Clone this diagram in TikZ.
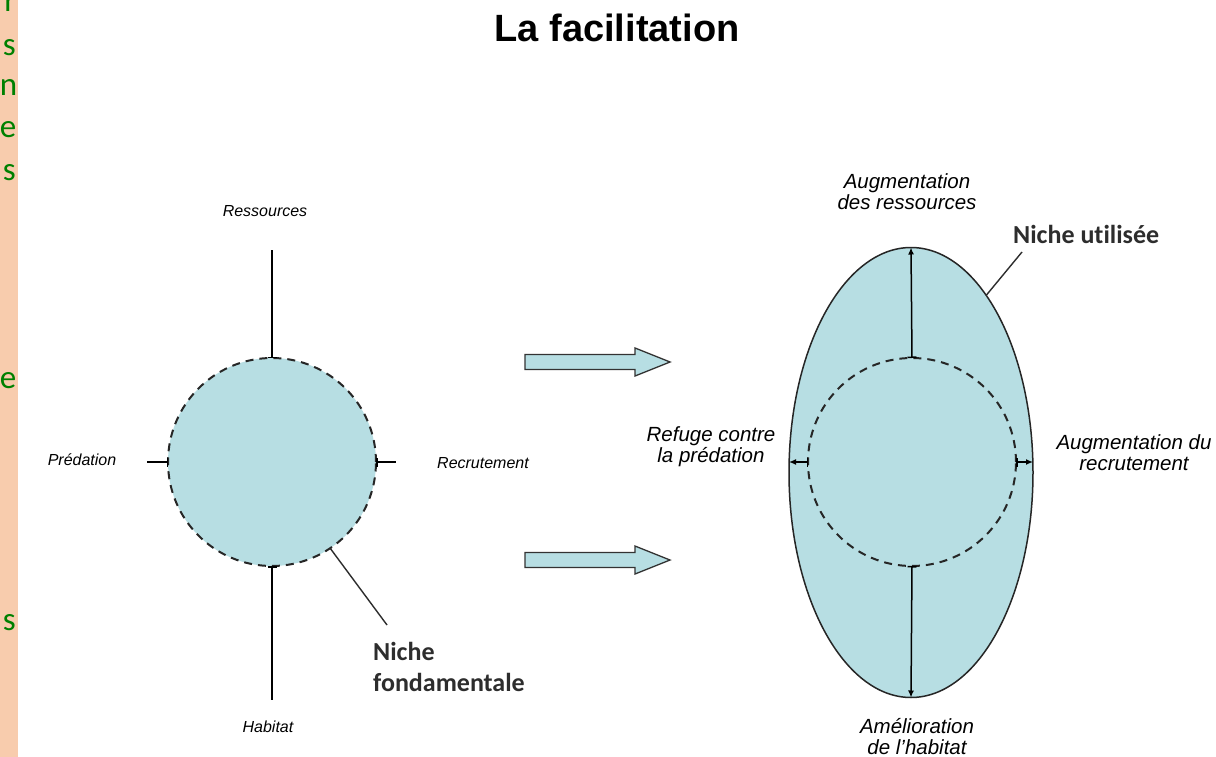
\documentclass[tikz,border=0pt]{standalone}
\usepackage{fontspec}
\setmainfont{Liberation Sans}
\newfontfamily\calib[Ligatures=NoCommon]{Carlito}
\usetikzlibrary{arrows.meta,shapes.geometric}
\definecolor{nichefill}{RGB}{183,222,227}
\definecolor{peach}{RGB}{248,204,173}
\definecolor{leafgreen}{RGB}{0,128,0}
\definecolor{labelgray}{RGB}{45,45,45}
\begin{document}
\begin{tikzpicture}[x=1pt,y=-1pt,
  lab/.style={font=\fontsize{16}{19}\selectfont\itshape, inner sep=0pt},
  rlab/.style={font=\fontsize{20.5}{21}\selectfont\itshape, align=center, inner sep=0pt},
  boldlab/.style={font=\calib\bfseries\fontsize{26}{31}\selectfont, text=labelgray, inner sep=0pt},
  greenlet/.style={font=\calib\fontsize{33}{40}\selectfont, text=leafgreen, inner sep=0pt, anchor=base east},
  axisline/.style={line width=1.5pt},
  nicheline/.style={draw=dashcol, line width=2pt, dash pattern=on 8pt off 6pt},
  pointer/.style={line width=1.4pt, draw=labelgray},
  blockarrow/.style={draw=black!80, line width=1.3pt, fill=nichefill},
  barstart/.style={{Bar[width=9pt,line width=1.5pt]}-},
  barboth/.style={{Bar[width=9pt,line width=1.5pt]}-{Latex[length=7pt,width=6pt]}}
]
\colorlet{dashcol}{black!85}
\useasboundingbox (0,0) rectangle (1216,757);
\clip (0,0) rectangle (1216,757);
\fill[white] (0,0) rectangle (1216,757);
% left strip
\fill[peach] (0,0) rectangle (18,757);
\node[greenlet] (g1) at (16,12) {r};
\node[greenlet] (g2) at (16,56) {s};
\node[greenlet] (g3) at (17.5,96) {n};
\node[greenlet] (g4) at (16.5,138) {e};
\node[greenlet] (g5) at (16,180) {s};
\node[greenlet] (g6) at (16.5,388) {e};
\node[greenlet] (g7) at (16,630) {s};

% title
\node[font=\bfseries\fontsize{38}{44}\selectfont, inner sep=0pt] (title) at (617,28) {La facilitation};

% left niche
\node[circle, minimum size=208pt, inner sep=0pt, outer sep=0pt, fill=nichefill, nicheline] (nf) at (272,462) {};
\coordinate (resEnd) at (272,250);
\coordinate (habEnd) at (272,700);
\coordinate (predEnd) at (147,462);
\coordinate (recrEnd) at (396,462);
\coordinate (nfPt) at (387,625);
\draw[axisline, barstart] (nf.north) -- (resEnd);
\draw[axisline, barstart] (nf.south) -- (habEnd);
\draw[axisline, barstart] (nf.west) -- (predEnd);
\draw[axisline, barstart] (nf.east) -- (recrEnd);
\draw[pointer] (nf.-56) -- (nfPt);

\node[lab] (lres) at (265,211) {Ressources};
\node[lab] (lhab) at (268,727) {Habitat};
\node[lab] (lpred) at (82,460) {Prédation};
\node[lab] (lrecr) at (483,463) {Recrutement};
\node[boldlab, anchor=base west] (nf1) at (373,660) {Niche};
\node[boldlab, anchor=base west] (nf2) at (373,691) {fondamentale};

% block arrows
\draw[blockarrow] (525,354.5) -- (635,354.5) -- (635,348) -- (670,362) -- (635,376) -- (635,369.5) -- (525,369.5) -- cycle;
\draw[blockarrow] (525,552.5) -- (635,552.5) -- (635,546) -- (670,560) -- (635,574) -- (635,567.5) -- (525,567.5) -- cycle;

% right niche
\node[ellipse, minimum width=244pt, minimum height=450pt, inner sep=0pt, outer sep=0pt, draw=black!85, line width=1.5pt, fill=nichefill] (nu) at (911,472.5) {};
\node[circle, minimum size=208pt, inner sep=0pt, outer sep=0pt, nicheline] (ni) at (912,462) {};
\coordinate (nuW) at (nu.west |- ni.west);
\coordinate (nuE) at (nu.east |- ni.east);
\coordinate (nuPt) at (1022,252);
\draw[axisline, barboth] (ni.north) -- (nu.north);
\draw[axisline, barboth] (ni.south) -- (nu.south);
\draw[axisline, barboth] (ni.west) -- (nuW);
\draw[axisline, barboth] (ni.east) -- (nuE);
\draw[pointer] (nu.67) -- (nuPt);

\node[rlab] (laug) at (907,191.5) {Augmentation\\des ressources};
\node[rlab] (lref) at (711,447) {Refuge contre\\la prédation};
\node[rlab] (laugr) at (1134,452.5) {Augmentation du\\recrutement};
\node[rlab] (lame) at (917,737) {Amélioration\\de l'habitat};
\node[boldlab, anchor=base west] (nu1) at (1013,243) {Niche utilisée};
\end{tikzpicture}
\end{document}
